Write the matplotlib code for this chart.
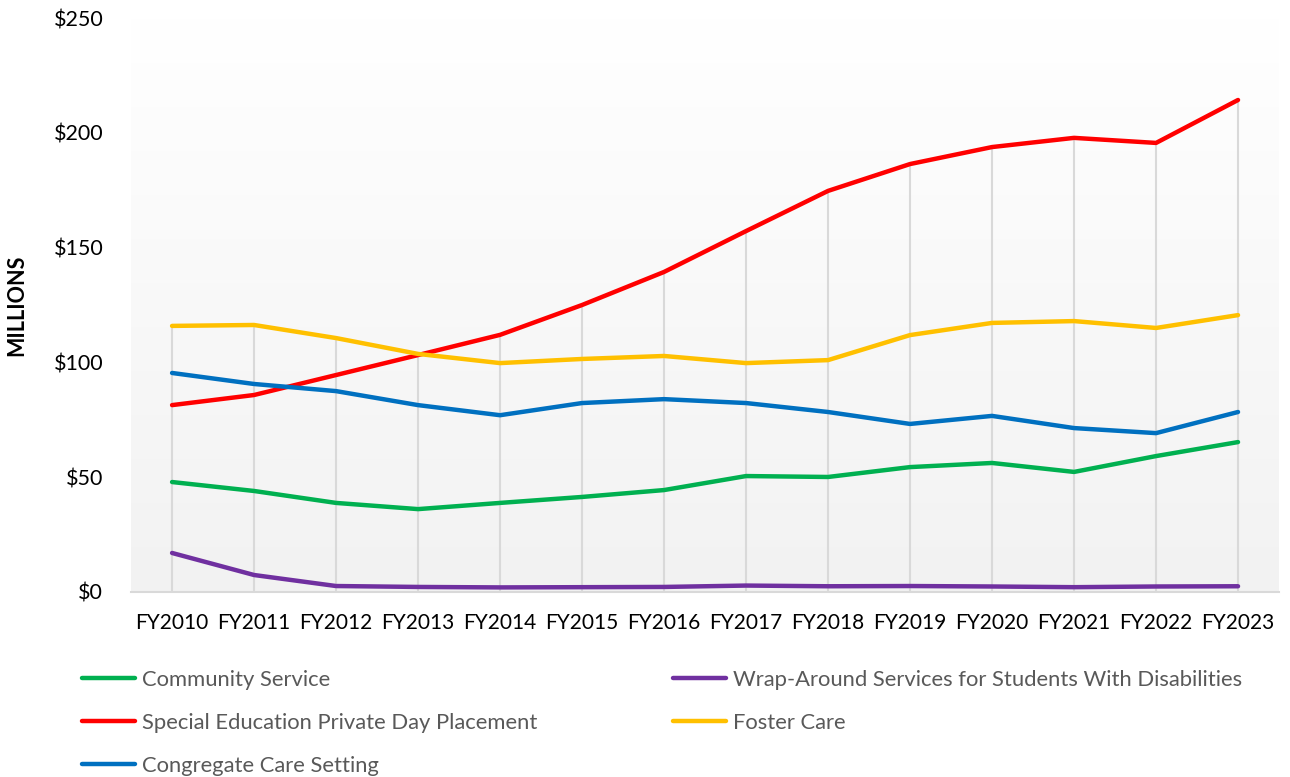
import matplotlib
matplotlib.use("Agg")
from matplotlib import pyplot as plt
import numpy as np

years = ["FY2010", "FY2011", "FY2012", "FY2013", "FY2014", "FY2015", "FY2016",
         "FY2017", "FY2018", "FY2019", "FY2020", "FY2021", "FY2022", "FY2023"]

community = [47.9, 44.0, 38.8, 36.1, 38.8, 41.4, 44.4, 50.5, 50.1, 54.4, 56.2, 52.3, 59.2, 65.3]
wrap_around = [17.0, 7.4, 2.6, 2.2, 2.0, 2.1, 2.2, 2.8, 2.5, 2.6, 2.4, 2.1, 2.4, 2.5]
special_ed = [81.4, 85.8, 94.5, 103.2, 112.0, 125.0, 139.4, 157.2, 174.7, 186.4, 193.8, 197.8, 195.6, 214.3]
foster = [115.9, 116.3, 110.6, 103.7, 99.7, 101.5, 102.8, 99.7, 101.0, 111.9, 117.2, 118.0, 115.0, 120.6]
congregate = [95.4, 90.6, 87.5, 81.4, 77.0, 82.3, 84.0, 82.3, 78.4, 73.2, 76.7, 71.4, 69.2, 78.4]

labels = ["Community Service", "Wrap-Around Services for Students With Disabilities",
          "Special Education Private Day Placement", "Foster Care", "Congregate Care Setting"]
colors = ["#00B050", "#7030A0", "#FF0000", "#FFC000", "#0070C0"]
series = [community, wrap_around, special_ed, foster, congregate]

plt.rcParams['font.family'] = ['Lato', 'DejaVu Sans']

fig = plt.figure(figsize=(12.9, 7.77), dpi=100)
ax = fig.add_axes([0.1016, 0.2381, 0.8899, 0.7387])

x = np.arange(len(years))
ax.set_xlim(-0.5, len(years) - 0.5)
ax.set_ylim(0, 250)

# gradient fill, white at top to light grey at bottom
grad = np.linspace(1.0, 0.0, 256).reshape(-1, 1)
grad_rgb = np.dstack([255 - 13 * (1 - grad)] * 3) / 255.0
ax.imshow(grad_rgb, extent=[-0.5, len(years) - 0.5, 0, 250], aspect="auto", zorder=0)

# drop lines
tops = np.max(np.array(series), axis=0)
ax.vlines(x, 0, tops, colors="#d9d9d9", linewidth=1.5, zorder=1)

lines = []
for vals, col, lab in zip(series, colors, labels):
    ln, = ax.plot(x, vals, color=col, linewidth=3.2, label=lab, zorder=3,
                  solid_capstyle="round", solid_joinstyle="round")
    lines.append(ln)

for s in ["top", "right", "left"]:
    ax.spines[s].set_visible(False)
ax.spines["bottom"].set_color("#d9d9d9")
ax.spines["bottom"].set_linewidth(1.5)

ax.set_xticks(x)
ax.set_xticklabels(years, fontsize=15)
ax.set_yticks(np.arange(0, 251, 50))
ax.set_yticklabels(["$%d" % v for v in np.arange(0, 251, 50)], fontsize=15.5)
ax.tick_params(axis="both", length=0, colors="black")
ax.tick_params(axis="x", pad=15)
ax.tick_params(axis="y", pad=20)
ax.set_ylabel("MILLIONS", fontsize=15.5, fontweight="bold", labelpad=19)

order = [0, 2, 4, 1, 3]
leg = fig.legend([lines[i] for i in order], [labels[i] for i in order],
                 loc="upper left", bbox_to_anchor=(0.0636, 0.1376), ncol=2,
                 frameon=False, fontsize=15.8, handlelength=2.4, handletextpad=0.33,
                 columnspacing=6.2, labelspacing=1.05, borderaxespad=0, borderpad=0)
for t in leg.get_texts():
    t.set_color("#595959")

fig.savefig("out.png", dpi=100)
